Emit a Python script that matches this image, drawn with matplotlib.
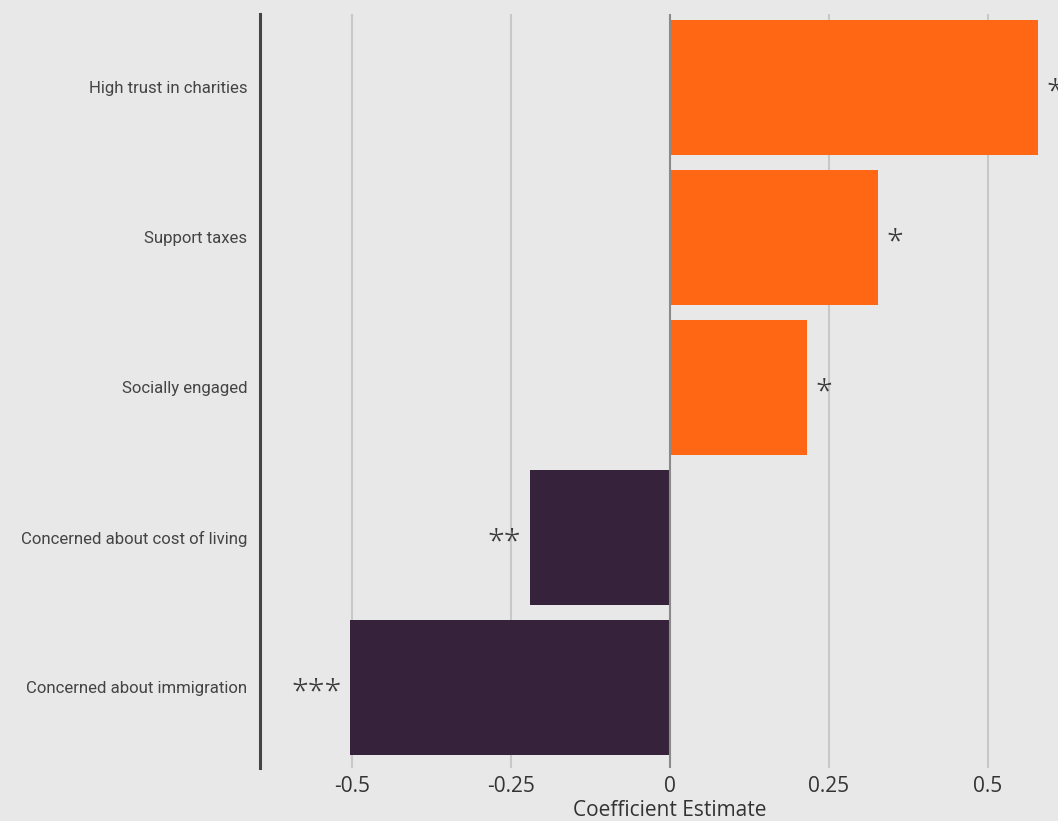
import matplotlib
matplotlib.use("Agg")
import matplotlib.pyplot as plt

categories = ["High trust in charities", "Support taxes", "Socially engaged",
              "Concerned about cost of living", "Concerned about immigration"]
coefficients = [0.579, 0.327, 0.215, -0.221, -0.503]
significance = ["*", "*", "*", "**", "***"]
xticks = [-0.5, -0.25, 0, 0.25, 0.5]
xtick_labels = ["-0.5", "-0.25", "0", "0.25", "0.5"]

ORANGE = "#FF6715"
PURPLE = "#36233B"
BG = "#E8E8E8"

W, H = 1058, 821
fig = plt.figure(figsize=(W / 100, H / 100), dpi=100, facecolor=BG)
ax = fig.add_axes([260 / W, 1 - 768 / H, (1080 - 260) / W, (768 - 14) / H])
ax.set_facecolor(BG)

ypos = list(range(len(categories)))
colors = [ORANGE if v >= 0 else PURPLE for v in coefficients]

ax.set_xlim(-0.645, 0.645)
ax.set_ylim(4.537, -0.49)

for x in xticks:
    if x != 0:
        ax.axvline(x, color="#C8C8C8", lw=1.5, zorder=0)

ax.barh(ypos, coefficients, height=0.9, color=colors, zorder=2)
ax.axvline(0, color="#8A8A8A", lw=1.5, zorder=3)

for y, v, s in zip(ypos, coefficients, significance):
    if v >= 0:
        ax.annotate(s, xy=(v, y), xytext=(6, -4.5), textcoords="offset points",
                    ha="left", va="center", fontsize=22, family="Open Sans",
                    fontweight="light", color="#3A3A3A", annotation_clip=False)
    else:
        ax.annotate(s, xy=(v, y), xytext=(-6, -4.5), textcoords="offset points",
                    ha="right", va="center", fontsize=22, family="Open Sans",
                    fontweight="light", color="#3A3A3A", annotation_clip=False)

ax.set_yticks(ypos)
ax.set_yticklabels(categories, fontsize=12.1, family="Roboto", color="#444444")
ax.set_xticks(xticks)
ax.set_xticklabels(xtick_labels, fontsize=15, family="Open Sans", color="#333333")
ax.tick_params(axis="both", length=0)
ax.tick_params(axis="y", pad=9)
ax.tick_params(axis="x", pad=6)
ax.set_xlabel("Coefficient Estimate", fontsize=15, family="Open Sans",
              color="#333333", labelpad=2)

for side in ["top", "right", "bottom"]:
    ax.spines[side].set_visible(False)
ax.spines["left"].set_color("#444444")
ax.spines["left"].set_linewidth(2.2)

fig.savefig("out.png", dpi=100, facecolor=BG)
